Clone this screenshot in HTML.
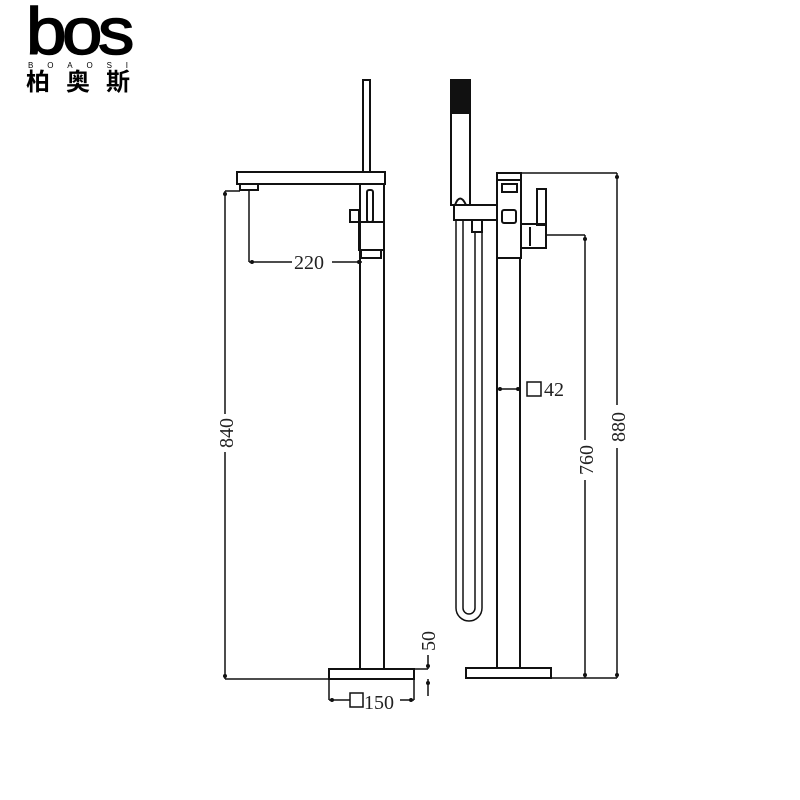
<!DOCTYPE html>
<html><head><meta charset="utf-8"><style>body{margin:0;background:#fff}svg{display:block}</style></head><body>
<svg width="800" height="800" viewBox="0 0 800 800" xmlns="http://www.w3.org/2000/svg">
<rect width="800" height="800" fill="#fff"/>
<!-- logo -->
<text x="26" y="54" font-family="Liberation Sans, sans-serif" font-size="66" fill="#000" stroke="#000" stroke-width="1.5" letter-spacing="-4" textLength="104" lengthAdjust="spacingAndGlyphs">bos</text>
<text x="28" y="68" font-family="Liberation Sans, sans-serif" font-size="8" fill="#000" textLength="100" lengthAdjust="spacing">BOAOSI</text>
<text x="26" y="90" font-family="Liberation Sans, 'Noto Sans CJK SC', sans-serif" font-size="24" font-weight="bold" fill="#000" textLength="104" lengthAdjust="spacing">柏奥斯</text>
<g fill="none" stroke="#111" stroke-width="2">
<rect x="363" y="80" width="7" height="92"/>
<rect x="237" y="172" width="148" height="12"/>
<rect x="240" y="184" width="18" height="6"/>
<line x1="360" y1="184" x2="360" y2="669"/>
<line x1="384" y1="184" x2="384" y2="669"/>
<rect x="367" y="190" width="6" height="32" rx="2"/>
<rect x="350" y="210" width="9" height="12"/>
<rect x="359" y="222" width="25" height="28"/>
<rect x="361" y="250" width="20" height="8"/>
<rect x="329" y="669" width="85" height="10"/>
</g>
<g fill="none" stroke="#111" stroke-width="1.5">
<line x1="249" y1="190" x2="249" y2="262"/>
<line x1="249" y1="262" x2="292" y2="262"/>
<line x1="332" y1="262" x2="362" y2="262"/>
<line x1="225" y1="191" x2="240" y2="191"/>
<line x1="225" y1="191" x2="225" y2="414"/>
<line x1="225" y1="452" x2="225" y2="679"/>
<line x1="225" y1="679" x2="329" y2="679"/>
<line x1="414" y1="669" x2="428" y2="669"/>
<line x1="428" y1="655" x2="428" y2="669"/>
<line x1="428" y1="679" x2="428" y2="696"/>
<line x1="329" y1="679" x2="329" y2="700"/>
<line x1="414" y1="679" x2="414" y2="700"/>
<line x1="329" y1="700" x2="350" y2="700"/>
<line x1="400" y1="700" x2="414" y2="700"/>
<rect x="350" y="693" width="13" height="14"/>
</g>
<g fill="#111">
<circle cx="225" cy="194" r="2"/><circle cx="225" cy="676" r="2"/>
<circle cx="252" cy="262" r="2"/><circle cx="359" cy="262" r="2"/>
<circle cx="428" cy="666" r="2"/><circle cx="428" cy="683" r="2"/>
<circle cx="332" cy="700" r="2"/><circle cx="411" cy="700" r="2"/>
</g>
<g font-family="Liberation Serif, serif" font-size="20" fill="#222">
<text x="294" y="269">220</text>
<text transform="translate(233,433) rotate(-90)" text-anchor="middle">840</text>
<text transform="translate(435,641) rotate(-90)" text-anchor="middle">50</text>
<text x="364" y="709">150</text>
</g>
<g fill="none" stroke="#111" stroke-width="2">
<rect x="451" y="80" width="19" height="125"/>
<rect x="452" y="82" width="17" height="31" fill="#111"/>
<path d="M455 205 Q460 192 466 205"/>
<rect x="454" y="205" width="43" height="15"/>
<rect x="497" y="173" width="24" height="85"/>
<line x1="497" y1="180" x2="521" y2="180"/>
<rect x="502" y="184" width="15" height="8"/>
<rect x="502" y="210" width="14" height="13" rx="2"/>
<line x1="497" y1="258" x2="497" y2="668"/>
<line x1="520" y1="258" x2="520" y2="668"/>
<rect x="537" y="189" width="9" height="36"/>
<rect x="521" y="224" width="25" height="24"/>
<line x1="530" y1="227" x2="530" y2="246"/>
<rect x="472" y="220" width="10" height="12"/>
<rect x="466" y="668" width="85" height="10"/>
</g>
<g fill="none" stroke="#111" stroke-width="1.5">
<path d="M456 220 V608 A13 13 0 0 0 482 608 V232"/>
<path d="M463 220 V608 A6 6 0 0 0 475 608 V232"/>
<line x1="497" y1="389" x2="521" y2="389"/>
<rect x="527" y="382" width="14" height="14"/>
<line x1="546" y1="235" x2="585" y2="235"/>
<line x1="585" y1="235" x2="585" y2="440"/>
<line x1="585" y1="480" x2="585" y2="678"/>
<line x1="521" y1="173" x2="617" y2="173"/>
<line x1="617" y1="173" x2="617" y2="405"/>
<line x1="617" y1="448" x2="617" y2="678"/>
<line x1="551" y1="678" x2="617" y2="678"/>
</g>
<g fill="#111">
<circle cx="500" cy="389" r="2"/><circle cx="518" cy="389" r="2"/>
<circle cx="585" cy="239" r="2"/><circle cx="585" cy="675" r="2"/>
<circle cx="617" cy="177" r="2"/><circle cx="617" cy="675" r="2"/>
</g>
<g font-family="Liberation Serif, serif" font-size="20" fill="#222">
<text x="544" y="396">42</text>
<text transform="translate(593,460) rotate(-90)" text-anchor="middle">760</text>
<text transform="translate(625,427) rotate(-90)" text-anchor="middle">880</text>
</g>
</svg>
</body></html>
